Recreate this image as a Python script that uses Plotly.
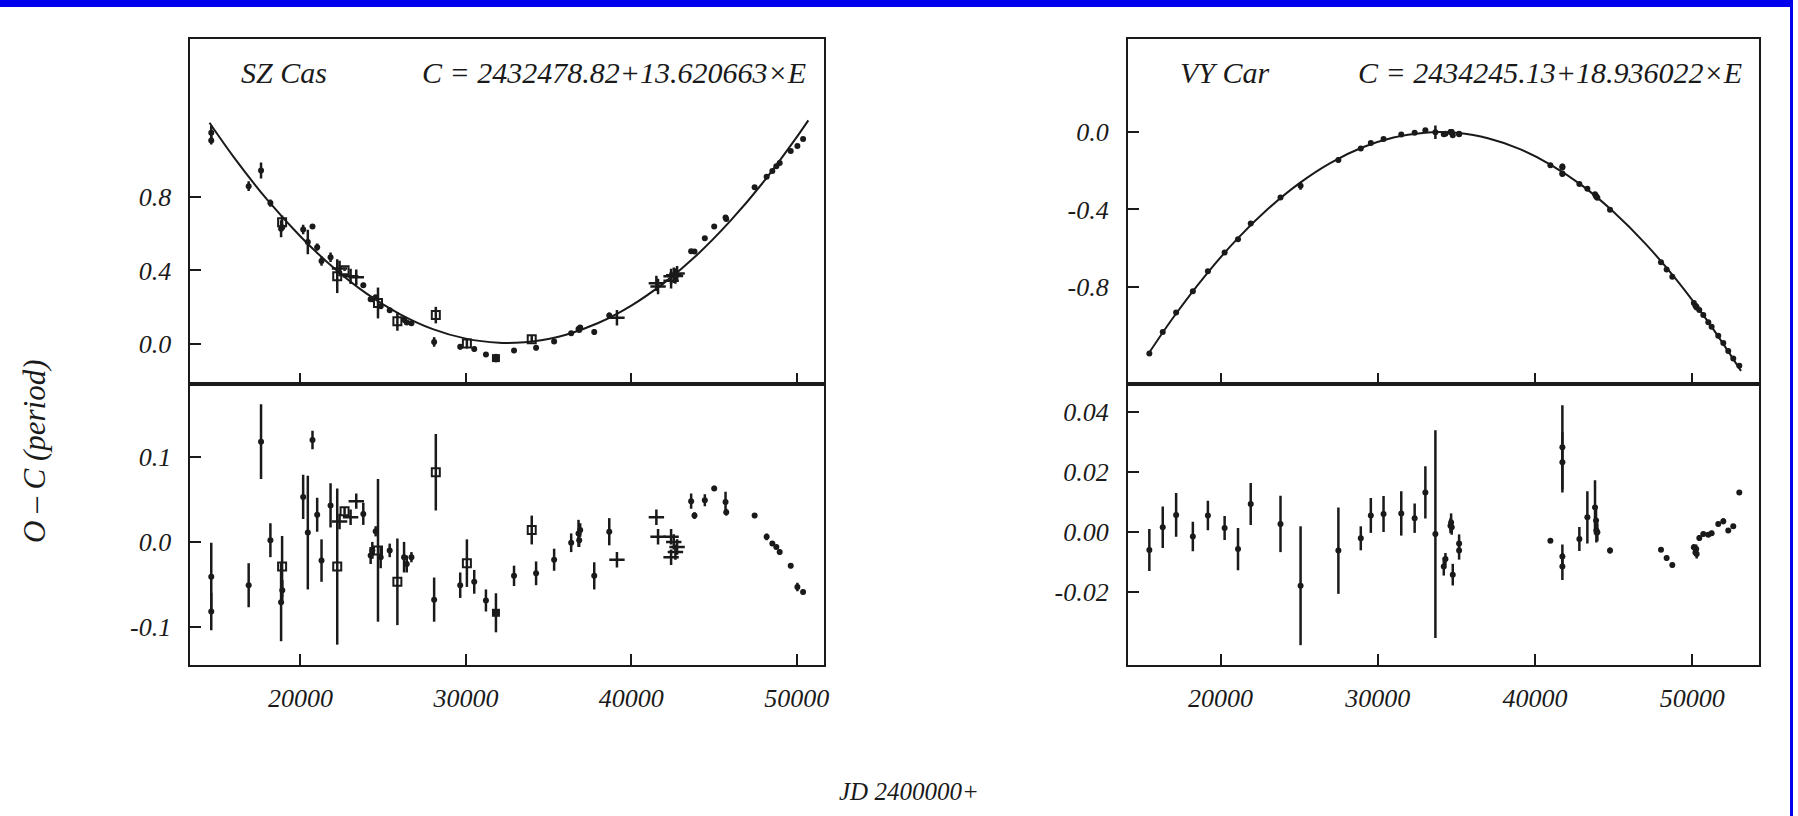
import plotly.graph_objects as go

# ---------------- SZ Cas ----------------
# Fitted ephemeris curve (O-C in periods vs JD-2400000)
sz_curve_jd = [14500, 16000, 18000, 20000, 22000, 24000, 26000, 28000, 30000, 32000,
               33000, 34000, 36000, 38000, 40000, 42000, 44000, 46000, 48000, 50000, 50700]
sz_curve_oc = [1.204, 1.013, 0.784, 0.585, 0.415, 0.274, 0.163, 0.081, 0.029, 0.006,
               0.006, 0.013, 0.049, 0.114, 0.209, 0.334, 0.487, 0.671, 0.883, 1.126, 1.217]

# Observed times of maximum
sz_jd = [14607, 14607, 16869, 17616, 18182, 18889, 18828, 18900, 20162, 20444,
         20727, 21010, 21273, 21818, 22222, 22363, 22666, 23030, 23373, 23798,
         24545, 24686, 24343, 24242, 24848, 25393, 25858, 26262, 26424, 26707,
         28181, 28080, 30060, 29656, 30504, 31211, 31817, 32910, 33980, 34243,
         35334, 36364, 36808, 36909, 36849, 37758, 38667, 39131, 41515, 41616,
         42404, 42565, 42767, 42667, 42404, 43616, 43818, 44444, 45010, 45696,
         45737, 47454, 48181, 48525, 48767, 48969, 49636, 50040, 50383]
sz_oc = [1.149, 1.108, 0.859, 0.944, 0.767, 0.663, 0.627, 0.635, 0.623, 0.555,
         0.639, 0.527, 0.451, 0.472, 0.369, 0.411, 0.401, 0.368, 0.363, 0.320,
         0.254, 0.223, 0.243, 0.243, 0.205, 0.183, 0.123, 0.133, 0.117, 0.113,
         0.157, 0.011, 0.003, -0.015, -0.027, -0.057, -0.077, -0.035, 0.026, -0.021,
         0.013, 0.058, 0.082, 0.089, 0.076, 0.065, 0.155, 0.143, 0.330, 0.313,
         0.368, 0.374, 0.383, 0.370, 0.344, 0.504, 0.503, 0.575, 0.639, 0.688,
         0.680, 0.853, 0.910, 0.942, 0.967, 0.985, 1.051, 1.078, 1.116]
sz_res = [-0.041, -0.082, -0.051, 0.118, 0.002, -0.029, -0.071, -0.057, 0.053, 0.011,
          0.120, 0.032, -0.022, 0.043, -0.029, 0.024, 0.036, 0.029, 0.048, 0.033,
          0.0125, -0.010, -0.010, -0.016, -0.018, -0.010, -0.047, -0.018, -0.026, -0.018,
          0.082, -0.068, -0.025, -0.051, -0.047, -0.069, -0.0835, -0.040, 0.014, -0.037,
          -0.021, -0.001, 0.010, 0.014, 0.002, -0.040, 0.012, -0.021, 0.029, 0.006,
          0.006, 0.000, -0.006, -0.012, -0.018, 0.048, 0.031, 0.049, 0.063, 0.047,
          0.035, 0.031, 0.006, -0.002, -0.006, -0.012, -0.028, -0.053, -0.059]
sz_err = [0.040, 0.022, 0.026, 0.044, 0.020, 0.036, 0.046, 0.012, 0.026, 0.067,
          0.011, 0.020, 0.025, 0.026, 0.092, 0.0, 0.004, 0.0, 0.0, 0.013,
          0.006, 0.084, 0.010, 0.010, 0.013, 0.008, 0.051, 0.018, 0.010, 0.006,
          0.045, 0.026, 0.028, 0.015, 0.014, 0.013, 0.023, 0.012, 0.017, 0.014,
          0.013, 0.011, 0.016, 0.008, 0.008, 0.016, 0.016, 0.0, 0.0, 0.0,
          0.0, 0.0, 0.0, 0.0, 0.0, 0.009, 0.004, 0.007, 0.003, 0.012,
          0.004, 0.003, 0.004, 0.002, 0.002, 0.003, 0.003, 0.005, 0.003]
# d = photoelectric dot, s = open square, f = filled square, p = plus
sz_kind = ["d", "d", "d", "d", "d", "s", "d", "d", "d", "d",
           "d", "d", "d", "d", "s", "p", "s", "p", "p", "d",
           "d", "s", "d", "d", "d", "d", "s", "d", "d", "d",
           "s", "d", "s", "d", "d", "d", "f", "d", "s", "d",
           "d", "d", "d", "d", "d", "d", "d", "p", "p", "p",
           "p", "p", "p", "p", "p", "d", "d", "d", "d", "d",
           "d", "d", "d", "d", "d", "d", "d", "d", "d"]

# ---------------- VY Car ----------------
vy_curve_jd = [15350, 17000, 19000, 21000, 23000, 25000, 27000, 29000, 31000, 33000,
               34000, 35000, 37000, 39000, 41000, 43000, 45000, 47000, 49000, 51000, 53100]
vy_curve_oc = [-1.153, -0.957, -0.744, -0.557, -0.398, -0.265, -0.159, -0.080, -0.028, -0.003,
               0.000, -0.004, -0.032, -0.087, -0.169, -0.277, -0.413, -0.575, -0.764, -0.980, -1.235]

vy_jd = [15467, 16319, 17170, 18234, 19191, 20255, 21107, 21915, 23809, 25086,
         27491, 28916, 29555, 30363, 31491, 32342, 33023, 33661, 34194, 34300,
         34620, 34660, 34700, 34766, 35169, 35169, 40975, 41738, 41738, 41738,
         41738, 42818, 43327, 43814, 43880, 43900, 43963, 44768, 48010, 48370,
         48730, 50100, 50200, 50250, 50280, 50447, 50700, 51018, 51230, 51653,
         51973, 52290, 52608, 52990]
vy_oc = [-1.144, -1.033, -0.932, -0.823, -0.719, -0.623, -0.554, -0.472, -0.338, -0.278,
         -0.144, -0.085, -0.057, -0.036, -0.013, -0.003, 0.010, -0.001, -0.011, -0.009,
         0.000, 0.001, 0.000, -0.017, -0.009, -0.011, -0.171, -0.178, -0.183, -0.214,
         -0.217, -0.268, -0.293, -0.321, -0.330, -0.334, -0.339, -0.402, -0.673, -0.710,
         -0.748, -0.884, -0.897, -0.902, -0.906, -0.919, -0.946, -0.983, -1.006, -1.053,
         -1.090, -1.132, -1.170, -1.208]
vy_res = [-0.0059, 0.0017, 0.0058, -0.0014, 0.0056, 0.0014, -0.0056, 0.0094, 0.0028, -0.0178,
          -0.0061, -0.0020, 0.0056, 0.0061, 0.0063, 0.0047, 0.0133, -0.0006, -0.0114, -0.0089,
          0.0022, 0.0033, 0.0017, -0.0141, -0.0037, -0.0061, -0.0028, 0.0283, 0.0233, -0.0081,
          -0.0114, -0.0022, 0.0050, 0.0083, 0.0039, 0.0006, 0.0000, -0.0061, -0.0058, -0.0086,
          -0.0109, -0.0050, -0.0067, -0.0056, -0.0072, -0.0019, -0.0006, -0.0008, -0.0003, 0.0028,
          0.0037, 0.0006, 0.0020, 0.0133]
vy_err = [0.0070, 0.0069, 0.0073, 0.0049, 0.0049, 0.0040, 0.0070, 0.0070, 0.0094, 0.0198,
          0.0144, 0.0040, 0.0058, 0.0060, 0.0074, 0.0049, 0.0087, 0.0346, 0.0030, 0.0020,
          0.0025, 0.0030, 0.0025, 0.0036, 0.0030, 0.0030, 0.0008, 0.0140, 0.0100, 0.0040,
          0.0045, 0.0040, 0.0087, 0.0090, 0.0050, 0.0040, 0.0030, 0.0010, 0.0008, 0.0008,
          0.0008, 0.0010, 0.0010, 0.0015, 0.0015, 0.0010, 0.0008, 0.0008, 0.0008, 0.0008,
          0.0010, 0.0008, 0.0008, 0.0008]

x_ticks = [20000, 30000, 40000, 50000]
x_ticktext = ["20000", "30000", "40000", "50000"]
sz_top_ticks, sz_top_text = [0.0, 0.4, 0.8], ["0.0", "0.4", "0.8"]
sz_bot_ticks, sz_bot_text = [-0.1, 0.0, 0.1], ["-0.1", "0.0", "0.1"]
vy_top_ticks, vy_top_text = [-0.8, -0.4, 0.0], ["-0.8", "-0.4", "0.0"]
vy_bot_ticks, vy_bot_text = [-0.02, 0.0, 0.02, 0.04], ["-0.02", "0.00", "0.02", "0.04"]

INK = "#1a1a1a"
FONT = "Liberation Serif"

SYMBOLS = {
    "d": dict(symbol="circle", size=6, color=INK, line=dict(width=0)),
    "s": dict(symbol="square-open", size=8, color=INK, line=dict(width=2, color=INK)),
    "f": dict(symbol="square", size=8, color=INK, line=dict(width=0)),
    "p": dict(symbol="cross-thin", size=11, color=INK, line=dict(width=2.5, color=INK)),
}

fig = go.Figure()


def add_points(xs, ys, errs, kinds, xa, ya):
    for k in ["d", "s", "f", "p"]:
        idx = [i for i, kk in enumerate(kinds) if kk == k]
        if not idx:
            continue
        fig.add_trace(go.Scatter(
            x=[xs[i] for i in idx], y=[ys[i] for i in idx],
            mode="markers", marker=SYMBOLS[k],
            error_y=dict(type="data", array=[errs[i] for i in idx], visible=True,
                         thickness=2.5, width=0, color=INK),
            xaxis=xa, yaxis=ya, showlegend=False, hoverinfo="skip"))


def add_curve(xs, ys, xa, ya):
    fig.add_trace(go.Scatter(x=xs, y=ys, mode="lines",
                             line=dict(color=INK, width=2, shape="spline", smoothing=1.0),
                             xaxis=xa, yaxis=ya, showlegend=False, hoverinfo="skip"))


add_curve(sz_curve_jd, sz_curve_oc, "x", "y")
add_points(sz_jd, sz_oc, sz_err, sz_kind, "x", "y")
add_points(sz_jd, sz_res, sz_err, sz_kind, "x2", "y2")

add_curve(vy_curve_jd, vy_curve_oc, "x3", "y3")
add_points(vy_jd, vy_oc, vy_err, ["d"] * len(vy_jd), "x3", "y3")
add_points(vy_jd, vy_res, vy_err, ["d"] * len(vy_jd), "x4", "y4")

W, H = 1798, 816
L_dom = [191 / W, 826 / W]
R_dom = [1131 / W, 1764 / W]
TOP_dom = [1 - 384 / H, 1 - 39 / H]
BOT_dom = [1 - 665 / H, 1 - 384 / H]

tickfont = dict(family=FONT, size=26, color=INK, style="italic")


def xax(domain, anchor, rng, labels):
    return dict(domain=domain, anchor=anchor, range=rng, tickvals=x_ticks, ticktext=x_ticktext,
                showticklabels=labels, ticks="inside", ticklen=11, tickwidth=2, tickcolor=INK,
                showline=True, mirror=True, linewidth=2, linecolor=INK, showgrid=False,
                zeroline=False, tickfont=tickfont, ticklabelstandoff=9)


def yax(domain, anchor, rng, tv, tt):
    return dict(domain=domain, anchor=anchor, range=rng, tickvals=tv, ticktext=tt,
                ticks="inside", ticklen=11, tickwidth=2, tickcolor=INK,
                showline=True, mirror=True, linewidth=2, linecolor=INK, showgrid=False,
                zeroline=False, tickfont=tickfont, ticklabelstandoff=12)


fig.update_layout(
    width=W, height=H, margin=dict(l=0, r=0, t=0, b=0),
    paper_bgcolor="white", plot_bgcolor="white",
    xaxis=xax(L_dom, "y", [13350, 51630], False),
    yaxis=yax(TOP_dom, "x", [-0.218, 1.66], sz_top_ticks, sz_top_text),
    xaxis2=xax(L_dom, "y2", [13350, 51630], True),
    yaxis2=yax(BOT_dom, "x2", [-0.145, 0.186], sz_bot_ticks, sz_bot_text),
    xaxis3=xax(R_dom, "y3", [14100, 54250], False),
    yaxis3=yax(TOP_dom, "x3", [-1.302, 0.481], vy_top_ticks, vy_top_text),
    xaxis4=xax(R_dom, "y4", [14100, 54250], True),
    yaxis4=yax(BOT_dom, "x4", [-0.0442, 0.0494], vy_bot_ticks, vy_bot_text),
)

label_font = dict(family=FONT, size=30, color=INK, style="italic")
ann = [
    dict(text="SZ Cas", x=240 / W, y=1 - 72 / H, xanchor="left", font=label_font),
    dict(text="C = 2432478.82+13.620663×E", x=810 / W, y=1 - 72 / H, xanchor="right",
         font=label_font),
    dict(text="VY Car", x=1181 / W, y=1 - 72 / H, xanchor="left", font=label_font),
    dict(text="C = 2434245.13+18.936022×E", x=1749 / W, y=1 - 72 / H, xanchor="right",
         font=label_font),
    dict(text="O – C (period)", x=34 / W, y=1 - 451 / H, xanchor="center", textangle=-90,
         font=dict(family=FONT, size=31, color=INK, style="italic")),
    dict(text="JD 2400000+", x=912 / W, y=1 - 791 / H, xanchor="center",
         font=dict(family=FONT, size=25, color=INK, style="italic")),
]
for a in ann:
    fig.add_annotation(xref="paper", yref="paper", yanchor="middle", showarrow=False, **a)

# blue frame along the top and right edges
fig.add_shape(type="rect", xref="paper", yref="paper", x0=0, x1=1, y0=1 - 7 / H, y1=1,
              fillcolor="#0000ee", line=dict(width=0), layer="above")
fig.add_shape(type="rect", xref="paper", yref="paper", x0=1 - 3 / W, x1=1, y0=0, y1=1,
              fillcolor="#0000ee", line=dict(width=0), layer="above")

fig.write_html("out.html")
